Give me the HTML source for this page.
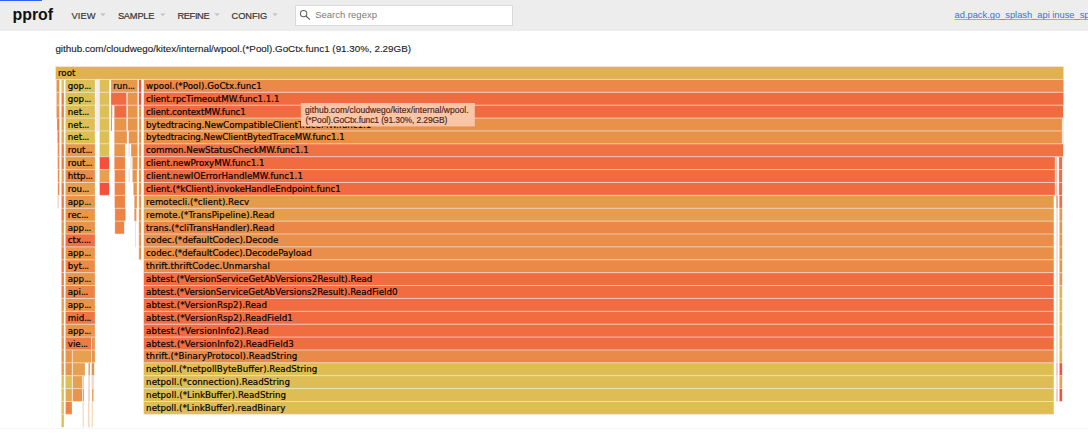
<!DOCTYPE html>
<html>
<head>
<meta charset="utf-8">
<title>pprof flame graph</title>
<style>
html,body{margin:0;padding:0;background:#fff;}
body{width:1088px;height:439px;overflow:hidden;position:relative;font-family:"Liberation Sans",Arial,sans-serif;}
.header{position:absolute;left:0;top:0;width:1088px;height:30.9px;background:#ededed;}
.bluebar{position:absolute;left:0;top:0;width:42px;height:1px;background:#2f62f0;}
.search{position:absolute;left:295.2px;top:4.6px;width:218.1px;height:21.6px;background:#fff;border:0.8px solid #dadada;box-sizing:border-box;}
svg.ov{position:absolute;left:0;top:0;}
.hd text{font-family:"Liberation Sans",Arial,sans-serif;}
.lbl text{font-family:"DejaVu Sans",Verdana,sans-serif;font-size:8.68px;fill:#000;stroke:#000;stroke-width:0.18px;}
.bottomline{position:absolute;left:0;top:428.3px;width:1088px;height:1px;background:#f6f6f8;}
.tip text{font-family:"Liberation Sans",Arial,sans-serif;font-size:8.5px;fill:#4e2418;stroke:#4e2418;stroke-width:0.15px;}
</style>
</head>
<body>
<div class="header"></div>
<div class="bluebar"></div>
<div class="search"></div>
<svg class="ov hd" width="1088" height="60" viewBox="0 0 1088 60">
<text x="12.5" y="20.0" font-size="15.9" font-weight="bold" fill="#111">pprof</text>
<g font-size="9.3" fill="#333" stroke="#333" stroke-width="0.18">
<text x="71.6" y="18.5" letter-spacing="0.03">VIEW</text>
<text x="117.9" y="18.5" letter-spacing="-0.22">SAMPLE</text>
<text x="177.5" y="18.5" letter-spacing="-0.4">REFINE</text>
<text x="231.6" y="18.5" letter-spacing="-0.11">CONFIG</text>
</g>
<g fill="#c4c4c4">
<polygon points="100.1,13.2 105.8,13.2 102.95,16.2"/>
<polygon points="160.0,13.4 165.4,13.4 162.7,16.3"/>
<polygon points="214.4,13.2 219.8,13.2 217.1,16.2"/>
<polygon points="272.3,13.2 277.7,13.2 275.0,16.2"/>
</g>
<circle cx="303.6" cy="13.6" r="3.2" fill="none" stroke="#5e5e5e" stroke-width="1.05"/>
<line x1="305.9" y1="16.0" x2="309.9" y2="19.6" stroke="#5e5e5e" stroke-width="1.15"/>
<text x="315.2" y="18.1" font-size="9.5" fill="#7a7a7a">Search regexp</text>
<text x="954.6" y="18.1" font-size="9.3" fill="#3a6fdb">ad.pack.go_splash_api inuse_space</text>
<rect x="954.6" y="19.2" width="140" height="0.75" fill="#6f95e6"/>
<text x="55.4" y="51.7" font-size="9.83" fill="#1a1a1a" stroke="#1a1a1a" stroke-width="0.12">github.com/cloudwego/kitex/internal/wpool.(*Pool).GoCtx.func1 (91.30%, 2.29GB)</text>
</svg>
<svg class="ov" width="1088" height="439" viewBox="0 0 1088 439"><g><rect x="55.60" y="66.52" width="1008.00" height="12.88" fill="#e1b151"/><rect x="56.40" y="79.40" width="3.00" height="12.88" fill="#e8944a"/><rect x="56.40" y="92.29" width="3.00" height="12.88" fill="#e9a05a"/><rect x="56.40" y="105.17" width="3.00" height="12.88" fill="#e8944a"/><rect x="57.00" y="118.05" width="2.40" height="12.88" fill="#ef7a48"/><rect x="57.40" y="130.94" width="2.00" height="12.88" fill="#ef7a48"/><rect x="57.60" y="143.82" width="1.80" height="12.88" fill="#eb8c50"/><rect x="57.60" y="156.70" width="1.80" height="12.88" fill="#eb8c50"/><rect x="57.80" y="169.58" width="1.60" height="12.88" fill="#eb8c50"/><rect x="57.80" y="182.47" width="1.60" height="12.88" fill="#eb8c50"/><rect x="57.60" y="195.35" width="1.00" height="12.88" fill="#f4b4a8"/><rect x="61.40" y="79.40" width="2.60" height="12.88" fill="#ddbf55"/><rect x="61.40" y="92.29" width="2.60" height="12.88" fill="#ef7a48"/><rect x="61.40" y="105.17" width="2.60" height="12.88" fill="#ef7a48"/><rect x="61.40" y="118.05" width="2.60" height="12.88" fill="#e8a050"/><rect x="61.40" y="130.94" width="2.60" height="12.88" fill="#e8a050"/><rect x="61.40" y="143.82" width="2.60" height="12.88" fill="#ef7a48"/><rect x="61.40" y="156.70" width="2.60" height="12.88" fill="#ef7a48"/><rect x="61.40" y="169.58" width="2.60" height="12.88" fill="#e5a852"/><rect x="61.40" y="182.47" width="2.60" height="12.88" fill="#ef7a48"/><rect x="61.40" y="195.35" width="2.60" height="12.88" fill="#ef7a48"/><rect x="61.40" y="208.23" width="2.60" height="12.88" fill="#ef7a48"/><rect x="61.40" y="221.12" width="2.60" height="12.88" fill="#e8944a"/><rect x="61.40" y="234.00" width="2.60" height="12.88" fill="#e8944a"/><rect x="61.40" y="246.88" width="2.60" height="12.88" fill="#ef7a48"/><rect x="61.40" y="259.76" width="2.60" height="12.88" fill="#ef7a48"/><rect x="61.40" y="272.65" width="2.60" height="12.88" fill="#ef7a48"/><rect x="61.40" y="285.53" width="2.60" height="12.88" fill="#ef7a48"/><rect x="61.40" y="298.41" width="2.60" height="12.88" fill="#e89a4c"/><rect x="61.40" y="311.30" width="2.60" height="12.88" fill="#e89a4c"/><rect x="61.40" y="324.18" width="2.60" height="12.88" fill="#e8944a"/><rect x="61.40" y="337.06" width="2.60" height="12.88" fill="#e8944a"/><rect x="61.40" y="349.95" width="2.60" height="12.88" fill="#e8944a"/><rect x="61.40" y="362.83" width="2.60" height="12.88" fill="#e8944a"/><rect x="61.40" y="375.71" width="2.60" height="12.88" fill="#ddbf55"/><rect x="61.40" y="388.59" width="2.60" height="12.88" fill="#ddbf55"/><rect x="61.40" y="401.48" width="2.60" height="12.88" fill="#ddbf55"/><rect x="61.40" y="414.36" width="2.60" height="12.88" fill="#ddbf55"/><rect x="65.40" y="79.40" width="29.60" height="12.88" fill="#ddbf55"/><rect x="65.40" y="92.29" width="29.60" height="12.88" fill="#ddbf55"/><rect x="65.40" y="105.17" width="29.60" height="12.88" fill="#ddbf55"/><rect x="65.40" y="118.05" width="29.60" height="12.88" fill="#ddbf55"/><rect x="65.40" y="130.94" width="29.60" height="12.88" fill="#ddbf55"/><rect x="65.40" y="143.82" width="29.60" height="12.88" fill="#e7994b"/><rect x="65.40" y="156.70" width="29.60" height="12.88" fill="#e7994b"/><rect x="65.40" y="169.58" width="29.60" height="12.88" fill="#ea8c48"/><rect x="65.40" y="182.47" width="29.60" height="12.88" fill="#e59f4d"/><rect x="65.40" y="195.35" width="29.60" height="12.88" fill="#e8944a"/><rect x="65.40" y="208.23" width="29.60" height="12.88" fill="#e7964b"/><rect x="65.40" y="221.12" width="29.60" height="12.88" fill="#e8944a"/><rect x="65.40" y="234.00" width="29.60" height="12.88" fill="#f17041"/><rect x="65.40" y="246.88" width="29.60" height="12.88" fill="#e8944a"/><rect x="65.40" y="259.76" width="29.60" height="12.88" fill="#ed8a47"/><rect x="65.40" y="272.65" width="29.60" height="12.88" fill="#e8944a"/><rect x="65.40" y="285.53" width="29.60" height="12.88" fill="#eb8547"/><rect x="65.40" y="298.41" width="29.60" height="12.88" fill="#e8944a"/><rect x="65.40" y="311.30" width="29.60" height="12.88" fill="#ef7643"/><rect x="65.40" y="324.18" width="29.60" height="12.88" fill="#e8944a"/><rect x="65.40" y="337.06" width="25.80" height="12.88" fill="#ed7b45"/><rect x="91.60" y="337.06" width="3.40" height="12.88" fill="#e8944a"/><rect x="65.40" y="349.95" width="6.60" height="12.88" fill="#e8944a"/><rect x="72.40" y="349.95" width="18.80" height="12.88" fill="#e8a050"/><rect x="91.60" y="349.95" width="3.40" height="12.88" fill="#e8944a"/><rect x="65.40" y="362.83" width="6.60" height="12.88" fill="#e8944a"/><rect x="72.60" y="362.83" width="12.40" height="12.88" fill="#e8a050"/><rect x="88.40" y="362.83" width="1.60" height="12.88" fill="#e8944a"/><rect x="91.60" y="362.83" width="2.60" height="12.88" fill="#e8944a"/><rect x="65.40" y="375.71" width="6.60" height="12.88" fill="#ddbf55"/><rect x="72.60" y="375.71" width="9.80" height="12.88" fill="#e8a050"/><rect x="82.80" y="375.71" width="0.80" height="12.88" fill="#e8944a"/><rect x="88.20" y="375.71" width="1.80" height="12.88" fill="#f5d3c6"/><rect x="91.60" y="375.71" width="2.40" height="12.88" fill="#f3d6c8"/><rect x="65.60" y="388.59" width="6.40" height="12.88" fill="#e5a852"/><rect x="72.60" y="388.59" width="9.60" height="12.88" fill="#e8944a"/><rect x="82.80" y="388.59" width="1.20" height="12.88" fill="#e8944a"/><rect x="88.00" y="388.59" width="2.00" height="12.88" fill="#f5d3c6"/><rect x="92.00" y="388.59" width="1.60" height="12.88" fill="#e8944a"/><rect x="65.60" y="401.48" width="6.40" height="12.88" fill="#ec8446"/><rect x="82.60" y="401.48" width="1.30" height="12.88" fill="#efe0b0"/><rect x="88.00" y="401.48" width="1.60" height="12.88" fill="#f5d3c6"/><rect x="91.60" y="401.48" width="1.40" height="12.88" fill="#efe0b0"/><rect x="82.60" y="414.36" width="1.30" height="12.88" fill="#efe0b0"/><rect x="88.00" y="414.36" width="1.60" height="12.88" fill="#f5d3c6"/><rect x="91.60" y="414.36" width="1.40" height="12.88" fill="#efe0b0"/><rect x="96.20" y="79.40" width="2.60" height="12.88" fill="#f4e8e8"/><rect x="96.20" y="92.29" width="2.60" height="12.88" fill="#f4e8e8"/><rect x="96.20" y="105.17" width="2.60" height="12.88" fill="#f4e8e8"/><rect x="96.20" y="118.05" width="2.60" height="12.88" fill="#f4e8e8"/><rect x="99.60" y="79.40" width="9.70" height="12.88" fill="#ddbf55"/><rect x="99.60" y="92.29" width="9.70" height="12.88" fill="#ddbf55"/><rect x="99.60" y="105.17" width="9.70" height="12.88" fill="#ddbf55"/><rect x="99.60" y="118.05" width="9.70" height="12.88" fill="#ddbf55"/><rect x="99.60" y="130.94" width="9.70" height="12.88" fill="#ddbf55"/><rect x="99.60" y="143.82" width="9.70" height="12.88" fill="#ddbf55"/><rect x="99.60" y="156.70" width="9.70" height="12.88" fill="#f5503c"/><rect x="99.60" y="169.58" width="9.70" height="12.88" fill="#e8a050"/><rect x="99.60" y="182.47" width="9.70" height="12.88" fill="#f5503c"/><rect x="110.90" y="79.40" width="26.80" height="12.88" fill="#e7984b"/><rect x="110.90" y="92.29" width="15.70" height="12.88" fill="#f16b41"/><rect x="127.40" y="92.29" width="10.30" height="12.88" fill="#e8944a"/><rect x="110.90" y="105.17" width="1.40" height="12.88" fill="#e8944a"/><rect x="114.20" y="105.17" width="12.40" height="12.88" fill="#f16b41"/><rect x="127.80" y="105.17" width="9.90" height="12.88" fill="#e8944a"/><rect x="110.90" y="118.05" width="1.00" height="12.88" fill="#f5503c"/><rect x="114.20" y="118.05" width="12.40" height="12.88" fill="#e8944a"/><rect x="127.80" y="118.05" width="9.90" height="12.88" fill="#e8944a"/><rect x="114.20" y="130.94" width="12.80" height="12.88" fill="#e8944a"/><rect x="128.70" y="130.94" width="9.00" height="12.88" fill="#e8944a"/><rect x="114.20" y="143.82" width="10.90" height="12.88" fill="#e8944a"/><rect x="128.70" y="143.82" width="1.00" height="12.88" fill="#f3d6c8"/><rect x="131.00" y="143.82" width="6.70" height="12.88" fill="#e8944a"/><rect x="114.20" y="156.70" width="10.90" height="12.88" fill="#ed8446"/><rect x="130.60" y="156.70" width="0.90" height="12.88" fill="#f3d6c8"/><rect x="132.40" y="156.70" width="5.30" height="12.88" fill="#e8944a"/><rect x="114.60" y="169.58" width="10.50" height="12.88" fill="#ed8446"/><rect x="128.70" y="169.58" width="1.00" height="12.88" fill="#f3d6c8"/><rect x="132.40" y="169.58" width="4.60" height="12.88" fill="#e8944a"/><rect x="114.60" y="182.47" width="10.50" height="12.88" fill="#ed8446"/><rect x="133.30" y="182.47" width="3.70" height="12.88" fill="#e8944a"/><rect x="114.60" y="195.35" width="10.50" height="12.88" fill="#ed8446"/><rect x="134.20" y="195.35" width="2.80" height="12.88" fill="#e8944a"/><rect x="114.90" y="208.23" width="10.70" height="12.88" fill="#ed8446"/><rect x="134.20" y="208.23" width="2.30" height="12.88" fill="#e8944a"/><rect x="114.90" y="221.12" width="9.30" height="12.88" fill="#ed8446"/><rect x="135.10" y="221.12" width="0.90" height="12.88" fill="#f3d6c8"/><rect x="135.10" y="234.00" width="0.90" height="12.88" fill="#f3d6c8"/><rect x="138.80" y="79.40" width="2.40" height="12.88" fill="#f5503c"/><rect x="138.80" y="92.29" width="2.40" height="12.88" fill="#f5503c"/><rect x="138.90" y="105.17" width="2.30" height="12.88" fill="#e8944a"/><rect x="138.90" y="118.05" width="2.30" height="12.88" fill="#e8944a"/><rect x="138.90" y="130.94" width="2.30" height="12.88" fill="#e8944a"/><rect x="138.90" y="143.82" width="2.30" height="12.88" fill="#e8944a"/><rect x="138.90" y="156.70" width="2.30" height="12.88" fill="#e8944a"/><rect x="138.90" y="169.58" width="2.30" height="12.88" fill="#e8944a"/><rect x="138.90" y="182.47" width="2.30" height="12.88" fill="#e8944a"/><rect x="138.90" y="195.35" width="2.30" height="12.88" fill="#e8944a"/><rect x="138.90" y="208.23" width="2.30" height="12.88" fill="#e8944a"/><rect x="138.90" y="221.12" width="2.30" height="12.88" fill="#e8944a"/><rect x="138.90" y="234.00" width="2.30" height="12.88" fill="#e8944a"/><rect x="138.90" y="246.88" width="2.30" height="12.88" fill="#e8944a"/><rect x="143.70" y="79.40" width="919.90" height="12.88" fill="#ea8948"/><rect x="143.70" y="92.29" width="919.90" height="12.88" fill="#f16b41"/><rect x="143.70" y="105.17" width="919.50" height="12.88" fill="#f16b41"/><rect x="143.70" y="118.05" width="918.40" height="12.88" fill="#e99149"/><rect x="143.70" y="130.94" width="918.40" height="12.88" fill="#e99149"/><rect x="143.70" y="143.82" width="919.50" height="12.88" fill="#f07142"/><rect x="143.70" y="156.70" width="911.30" height="12.88" fill="#f16b41"/><rect x="143.70" y="169.58" width="911.30" height="12.88" fill="#f16b41"/><rect x="143.70" y="182.47" width="911.30" height="12.88" fill="#f16b41"/><rect x="143.70" y="195.35" width="910.20" height="12.88" fill="#e69a4c"/><rect x="143.70" y="208.23" width="910.20" height="12.88" fill="#e69d4c"/><rect x="143.70" y="221.12" width="910.20" height="12.88" fill="#eb8747"/><rect x="143.70" y="234.00" width="910.20" height="12.88" fill="#e98f49"/><rect x="143.70" y="246.88" width="910.20" height="12.88" fill="#e98f49"/><rect x="143.70" y="259.76" width="910.20" height="12.88" fill="#ea8948"/><rect x="143.70" y="272.65" width="910.20" height="12.88" fill="#f16d41"/><rect x="143.70" y="285.53" width="910.20" height="12.88" fill="#f16d41"/><rect x="143.70" y="298.41" width="910.20" height="12.88" fill="#f16d41"/><rect x="143.70" y="311.30" width="910.20" height="12.88" fill="#f16d41"/><rect x="143.70" y="324.18" width="910.20" height="12.88" fill="#f16d41"/><rect x="143.70" y="337.06" width="910.20" height="12.88" fill="#f16d41"/><rect x="143.70" y="349.95" width="910.20" height="12.88" fill="#ea8948"/><rect x="143.70" y="362.83" width="910.20" height="12.88" fill="#debd54"/><rect x="143.70" y="375.71" width="910.20" height="12.88" fill="#debd54"/><rect x="143.70" y="388.59" width="910.20" height="12.88" fill="#debd54"/><rect x="143.70" y="401.48" width="910.20" height="12.88" fill="#debd54"/><rect x="1062.30" y="118.05" width="1.30" height="12.88" fill="#f3d6c8"/><rect x="1062.30" y="130.94" width="1.30" height="12.88" fill="#f3d6c8"/><rect x="1055.50" y="156.70" width="1.50" height="12.88" fill="#f4b4a8"/><rect x="1058.90" y="156.70" width="3.30" height="12.88" fill="#f16b41"/><rect x="1055.50" y="169.58" width="1.50" height="12.88" fill="#f4b4a8"/><rect x="1058.90" y="169.58" width="3.30" height="12.88" fill="#f16b41"/><rect x="1055.50" y="182.47" width="1.50" height="12.88" fill="#f4b4a8"/><rect x="1058.90" y="182.47" width="3.30" height="12.88" fill="#f16b41"/><rect x="1056.30" y="195.35" width="1.50" height="12.88" fill="#f16b41"/><rect x="1059.20" y="195.35" width="3.00" height="12.88" fill="#f16b41"/><rect x="1056.20" y="208.23" width="1.60" height="12.88" fill="#f3d6c8"/><rect x="1059.40" y="208.23" width="2.80" height="12.88" fill="#e8944a"/><rect x="1056.20" y="221.12" width="1.60" height="12.88" fill="#f3d6c8"/><rect x="1059.40" y="221.12" width="2.80" height="12.88" fill="#e8944a"/><rect x="1056.20" y="234.00" width="1.60" height="12.88" fill="#f3d6c8"/><rect x="1059.40" y="234.00" width="2.80" height="12.88" fill="#e8944a"/><rect x="1056.20" y="246.88" width="1.60" height="12.88" fill="#f3d6c8"/><rect x="1059.40" y="246.88" width="2.80" height="12.88" fill="#e8944a"/><rect x="1056.20" y="259.76" width="1.60" height="12.88" fill="#f3d6c8"/><rect x="1059.40" y="259.76" width="2.80" height="12.88" fill="#e8944a"/><rect x="1056.20" y="272.65" width="1.60" height="12.88" fill="#f3d6c8"/><rect x="1059.40" y="272.65" width="2.80" height="12.88" fill="#e8944a"/><rect x="1056.20" y="285.53" width="1.60" height="12.88" fill="#efe0b0"/><rect x="1059.40" y="285.53" width="2.80" height="12.88" fill="#dcb84f"/><rect x="1056.20" y="298.41" width="1.60" height="12.88" fill="#efe0b0"/><rect x="1059.40" y="298.41" width="2.80" height="12.88" fill="#dcb84f"/><rect x="1056.20" y="311.30" width="1.60" height="12.88" fill="#efe0b0"/><rect x="1059.40" y="311.30" width="2.80" height="12.88" fill="#dcb84f"/><rect x="1056.20" y="324.18" width="1.60" height="12.88" fill="#efe0b0"/><rect x="1059.40" y="324.18" width="2.80" height="12.88" fill="#dcb84f"/><rect x="1056.20" y="337.06" width="1.60" height="12.88" fill="#efe0b0"/><rect x="1059.40" y="337.06" width="2.80" height="12.88" fill="#dcb84f"/><rect x="1056.20" y="349.95" width="1.60" height="12.88" fill="#efe0b0"/><rect x="1059.40" y="349.95" width="2.80" height="12.88" fill="#dcb84f"/><rect x="1056.20" y="362.83" width="1.60" height="12.88" fill="#f4b4a8"/><rect x="1059.40" y="362.83" width="2.80" height="12.88" fill="#f5503c"/><rect x="1056.20" y="375.71" width="1.60" height="12.88" fill="#f3d6c8"/><rect x="1059.40" y="375.71" width="2.80" height="12.88" fill="#e8a050"/><rect x="1056.20" y="388.59" width="1.60" height="12.88" fill="#f4b4a8"/><rect x="1059.40" y="388.59" width="2.80" height="12.88" fill="#f5503c"/><g fill="#eeeeee" fill-opacity="0.62"><rect x="55.60" y="66.02" width="1008.00" height="1.00"/><rect x="55.60" y="78.90" width="1008.00" height="1.00"/><rect x="56.40" y="91.79" width="3.00" height="1.00"/><rect x="61.40" y="91.79" width="2.60" height="1.00"/><rect x="65.40" y="91.79" width="29.60" height="1.00"/><rect x="96.20" y="91.79" width="2.60" height="1.00"/><rect x="99.60" y="91.79" width="9.70" height="1.00"/><rect x="110.90" y="91.79" width="26.80" height="1.00"/><rect x="138.80" y="91.79" width="2.40" height="1.00"/><rect x="143.70" y="91.79" width="919.90" height="1.00"/><rect x="56.40" y="104.67" width="3.00" height="1.00"/><rect x="61.40" y="104.67" width="2.60" height="1.00"/><rect x="65.40" y="104.67" width="29.60" height="1.00"/><rect x="96.20" y="104.67" width="2.60" height="1.00"/><rect x="99.60" y="104.67" width="9.70" height="1.00"/><rect x="110.90" y="104.67" width="15.70" height="1.00"/><rect x="127.40" y="104.67" width="10.30" height="1.00"/><rect x="138.80" y="104.67" width="2.40" height="1.00"/><rect x="143.70" y="104.67" width="919.90" height="1.00"/><rect x="56.40" y="117.55" width="3.00" height="1.00"/><rect x="61.40" y="117.55" width="2.60" height="1.00"/><rect x="65.40" y="117.55" width="29.60" height="1.00"/><rect x="96.20" y="117.55" width="2.60" height="1.00"/><rect x="99.60" y="117.55" width="9.70" height="1.00"/><rect x="110.90" y="117.55" width="1.40" height="1.00"/><rect x="114.20" y="117.55" width="12.40" height="1.00"/><rect x="127.80" y="117.55" width="9.90" height="1.00"/><rect x="138.90" y="117.55" width="2.30" height="1.00"/><rect x="143.70" y="117.55" width="919.90" height="1.00"/><rect x="57.00" y="130.44" width="2.40" height="1.00"/><rect x="61.40" y="130.44" width="2.60" height="1.00"/><rect x="65.40" y="130.44" width="29.60" height="1.00"/><rect x="96.20" y="130.44" width="2.60" height="1.00"/><rect x="99.60" y="130.44" width="9.70" height="1.00"/><rect x="110.90" y="130.44" width="1.00" height="1.00"/><rect x="114.20" y="130.44" width="12.80" height="1.00"/><rect x="127.80" y="130.44" width="9.90" height="1.00"/><rect x="138.90" y="130.44" width="2.30" height="1.00"/><rect x="143.70" y="130.44" width="918.40" height="1.00"/><rect x="1062.30" y="130.44" width="1.30" height="1.00"/><rect x="57.40" y="143.32" width="2.00" height="1.00"/><rect x="61.40" y="143.32" width="2.60" height="1.00"/><rect x="65.40" y="143.32" width="29.60" height="1.00"/><rect x="99.60" y="143.32" width="9.70" height="1.00"/><rect x="114.20" y="143.32" width="12.80" height="1.00"/><rect x="128.70" y="143.32" width="9.00" height="1.00"/><rect x="138.90" y="143.32" width="2.30" height="1.00"/><rect x="143.70" y="143.32" width="919.90" height="1.00"/><rect x="57.60" y="156.20" width="1.80" height="1.00"/><rect x="61.40" y="156.20" width="2.60" height="1.00"/><rect x="65.40" y="156.20" width="29.60" height="1.00"/><rect x="99.60" y="156.20" width="9.70" height="1.00"/><rect x="114.20" y="156.20" width="10.90" height="1.00"/><rect x="128.70" y="156.20" width="1.00" height="1.00"/><rect x="130.60" y="156.20" width="7.10" height="1.00"/><rect x="138.90" y="156.20" width="2.30" height="1.00"/><rect x="143.70" y="156.20" width="919.50" height="1.00"/><rect x="57.60" y="169.08" width="1.80" height="1.00"/><rect x="61.40" y="169.08" width="2.60" height="1.00"/><rect x="65.40" y="169.08" width="29.60" height="1.00"/><rect x="99.60" y="169.08" width="9.70" height="1.00"/><rect x="114.20" y="169.08" width="10.90" height="1.00"/><rect x="128.70" y="169.08" width="1.00" height="1.00"/><rect x="130.60" y="169.08" width="0.90" height="1.00"/><rect x="132.40" y="169.08" width="5.30" height="1.00"/><rect x="138.90" y="169.08" width="2.30" height="1.00"/><rect x="143.70" y="169.08" width="911.30" height="1.00"/><rect x="1055.50" y="169.08" width="1.50" height="1.00"/><rect x="1058.90" y="169.08" width="3.30" height="1.00"/><rect x="57.80" y="181.97" width="1.60" height="1.00"/><rect x="61.40" y="181.97" width="2.60" height="1.00"/><rect x="65.40" y="181.97" width="29.60" height="1.00"/><rect x="99.60" y="181.97" width="9.70" height="1.00"/><rect x="114.60" y="181.97" width="10.50" height="1.00"/><rect x="128.70" y="181.97" width="1.00" height="1.00"/><rect x="132.40" y="181.97" width="4.60" height="1.00"/><rect x="138.90" y="181.97" width="2.30" height="1.00"/><rect x="143.70" y="181.97" width="911.30" height="1.00"/><rect x="1055.50" y="181.97" width="1.50" height="1.00"/><rect x="1058.90" y="181.97" width="3.30" height="1.00"/><rect x="57.60" y="194.85" width="1.80" height="1.00"/><rect x="61.40" y="194.85" width="2.60" height="1.00"/><rect x="65.40" y="194.85" width="29.60" height="1.00"/><rect x="99.60" y="194.85" width="9.70" height="1.00"/><rect x="114.60" y="194.85" width="10.50" height="1.00"/><rect x="133.30" y="194.85" width="3.70" height="1.00"/><rect x="138.90" y="194.85" width="2.30" height="1.00"/><rect x="143.70" y="194.85" width="911.30" height="1.00"/><rect x="1055.50" y="194.85" width="2.30" height="1.00"/><rect x="1058.90" y="194.85" width="3.30" height="1.00"/><rect x="57.60" y="207.73" width="1.00" height="1.00"/><rect x="61.40" y="207.73" width="2.60" height="1.00"/><rect x="65.40" y="207.73" width="29.60" height="1.00"/><rect x="114.60" y="207.73" width="11.00" height="1.00"/><rect x="134.20" y="207.73" width="2.80" height="1.00"/><rect x="138.90" y="207.73" width="2.30" height="1.00"/><rect x="143.70" y="207.73" width="910.20" height="1.00"/><rect x="1056.20" y="207.73" width="1.60" height="1.00"/><rect x="1059.20" y="207.73" width="3.00" height="1.00"/><rect x="61.40" y="220.62" width="2.60" height="1.00"/><rect x="65.40" y="220.62" width="29.60" height="1.00"/><rect x="114.90" y="220.62" width="10.70" height="1.00"/><rect x="134.20" y="220.62" width="2.30" height="1.00"/><rect x="138.90" y="220.62" width="2.30" height="1.00"/><rect x="143.70" y="220.62" width="910.20" height="1.00"/><rect x="1056.20" y="220.62" width="1.60" height="1.00"/><rect x="1059.40" y="220.62" width="2.80" height="1.00"/><rect x="61.40" y="233.50" width="2.60" height="1.00"/><rect x="65.40" y="233.50" width="29.60" height="1.00"/><rect x="114.90" y="233.50" width="9.30" height="1.00"/><rect x="135.10" y="233.50" width="0.90" height="1.00"/><rect x="138.90" y="233.50" width="2.30" height="1.00"/><rect x="143.70" y="233.50" width="910.20" height="1.00"/><rect x="1056.20" y="233.50" width="1.60" height="1.00"/><rect x="1059.40" y="233.50" width="2.80" height="1.00"/><rect x="61.40" y="246.38" width="2.60" height="1.00"/><rect x="65.40" y="246.38" width="29.60" height="1.00"/><rect x="135.10" y="246.38" width="0.90" height="1.00"/><rect x="138.90" y="246.38" width="2.30" height="1.00"/><rect x="143.70" y="246.38" width="910.20" height="1.00"/><rect x="1056.20" y="246.38" width="1.60" height="1.00"/><rect x="1059.40" y="246.38" width="2.80" height="1.00"/><rect x="61.40" y="259.26" width="2.60" height="1.00"/><rect x="65.40" y="259.26" width="29.60" height="1.00"/><rect x="138.90" y="259.26" width="2.30" height="1.00"/><rect x="143.70" y="259.26" width="910.20" height="1.00"/><rect x="1056.20" y="259.26" width="1.60" height="1.00"/><rect x="1059.40" y="259.26" width="2.80" height="1.00"/><rect x="61.40" y="272.15" width="2.60" height="1.00"/><rect x="65.40" y="272.15" width="29.60" height="1.00"/><rect x="143.70" y="272.15" width="910.20" height="1.00"/><rect x="1056.20" y="272.15" width="1.60" height="1.00"/><rect x="1059.40" y="272.15" width="2.80" height="1.00"/><rect x="61.40" y="285.03" width="2.60" height="1.00"/><rect x="65.40" y="285.03" width="29.60" height="1.00"/><rect x="143.70" y="285.03" width="910.20" height="1.00"/><rect x="1056.20" y="285.03" width="1.60" height="1.00"/><rect x="1059.40" y="285.03" width="2.80" height="1.00"/><rect x="61.40" y="297.91" width="2.60" height="1.00"/><rect x="65.40" y="297.91" width="29.60" height="1.00"/><rect x="143.70" y="297.91" width="910.20" height="1.00"/><rect x="1056.20" y="297.91" width="1.60" height="1.00"/><rect x="1059.40" y="297.91" width="2.80" height="1.00"/><rect x="61.40" y="310.80" width="2.60" height="1.00"/><rect x="65.40" y="310.80" width="29.60" height="1.00"/><rect x="143.70" y="310.80" width="910.20" height="1.00"/><rect x="1056.20" y="310.80" width="1.60" height="1.00"/><rect x="1059.40" y="310.80" width="2.80" height="1.00"/><rect x="61.40" y="323.68" width="2.60" height="1.00"/><rect x="65.40" y="323.68" width="29.60" height="1.00"/><rect x="143.70" y="323.68" width="910.20" height="1.00"/><rect x="1056.20" y="323.68" width="1.60" height="1.00"/><rect x="1059.40" y="323.68" width="2.80" height="1.00"/><rect x="61.40" y="336.56" width="2.60" height="1.00"/><rect x="65.40" y="336.56" width="29.60" height="1.00"/><rect x="143.70" y="336.56" width="910.20" height="1.00"/><rect x="1056.20" y="336.56" width="1.60" height="1.00"/><rect x="1059.40" y="336.56" width="2.80" height="1.00"/><rect x="61.40" y="349.45" width="2.60" height="1.00"/><rect x="65.40" y="349.45" width="25.80" height="1.00"/><rect x="91.60" y="349.45" width="3.40" height="1.00"/><rect x="143.70" y="349.45" width="910.20" height="1.00"/><rect x="1056.20" y="349.45" width="1.60" height="1.00"/><rect x="1059.40" y="349.45" width="2.80" height="1.00"/><rect x="61.40" y="362.33" width="2.60" height="1.00"/><rect x="65.40" y="362.33" width="6.60" height="1.00"/><rect x="72.40" y="362.33" width="18.80" height="1.00"/><rect x="91.60" y="362.33" width="3.40" height="1.00"/><rect x="143.70" y="362.33" width="910.20" height="1.00"/><rect x="1056.20" y="362.33" width="1.60" height="1.00"/><rect x="1059.40" y="362.33" width="2.80" height="1.00"/><rect x="61.40" y="375.21" width="2.60" height="1.00"/><rect x="65.40" y="375.21" width="6.60" height="1.00"/><rect x="72.60" y="375.21" width="12.40" height="1.00"/><rect x="88.20" y="375.21" width="1.80" height="1.00"/><rect x="91.60" y="375.21" width="2.60" height="1.00"/><rect x="143.70" y="375.21" width="910.20" height="1.00"/><rect x="1056.20" y="375.21" width="1.60" height="1.00"/><rect x="1059.40" y="375.21" width="2.80" height="1.00"/><rect x="61.40" y="388.09" width="2.60" height="1.00"/><rect x="65.40" y="388.09" width="6.60" height="1.00"/><rect x="72.60" y="388.09" width="9.80" height="1.00"/><rect x="82.80" y="388.09" width="1.20" height="1.00"/><rect x="88.00" y="388.09" width="2.00" height="1.00"/><rect x="91.60" y="388.09" width="2.40" height="1.00"/><rect x="143.70" y="388.09" width="910.20" height="1.00"/><rect x="1056.20" y="388.09" width="1.60" height="1.00"/><rect x="1059.40" y="388.09" width="2.80" height="1.00"/><rect x="61.40" y="400.98" width="2.60" height="1.00"/><rect x="65.60" y="400.98" width="6.40" height="1.00"/><rect x="72.60" y="400.98" width="9.60" height="1.00"/><rect x="82.60" y="400.98" width="1.40" height="1.00"/><rect x="88.00" y="400.98" width="2.00" height="1.00"/><rect x="91.60" y="400.98" width="2.00" height="1.00"/><rect x="143.70" y="400.98" width="910.20" height="1.00"/><rect x="1056.20" y="400.98" width="1.60" height="1.00"/><rect x="1059.40" y="400.98" width="2.80" height="1.00"/><rect x="61.40" y="413.86" width="2.60" height="1.00"/><rect x="65.60" y="413.86" width="6.40" height="1.00"/><rect x="82.60" y="413.86" width="1.30" height="1.00"/><rect x="88.00" y="413.86" width="1.60" height="1.00"/><rect x="91.60" y="413.86" width="1.40" height="1.00"/><rect x="143.70" y="413.86" width="910.20" height="1.00"/><rect x="61.40" y="426.74" width="2.60" height="1.00"/><rect x="82.60" y="426.74" width="1.30" height="1.00"/><rect x="88.00" y="426.74" width="1.60" height="1.00"/><rect x="91.60" y="426.74" width="1.40" height="1.00"/></g><g fill="#eeeeee" fill-opacity="0.70"><rect x="55.38" y="67.02" width="0.45" height="11.88"/><rect x="1063.38" y="67.02" width="0.45" height="11.88"/><rect x="56.17" y="79.90" width="0.45" height="11.88"/><rect x="59.17" y="79.90" width="0.45" height="11.88"/><rect x="56.17" y="92.79" width="0.45" height="11.88"/><rect x="59.17" y="92.79" width="0.45" height="11.88"/><rect x="56.17" y="105.67" width="0.45" height="11.88"/><rect x="59.17" y="105.67" width="0.45" height="11.88"/><rect x="56.77" y="118.55" width="0.45" height="11.88"/><rect x="59.17" y="118.55" width="0.45" height="11.88"/><rect x="57.17" y="131.44" width="0.45" height="11.88"/><rect x="59.17" y="131.44" width="0.45" height="11.88"/><rect x="57.38" y="144.32" width="0.45" height="11.88"/><rect x="59.17" y="144.32" width="0.45" height="11.88"/><rect x="57.38" y="157.20" width="0.45" height="11.88"/><rect x="59.17" y="157.20" width="0.45" height="11.88"/><rect x="57.57" y="170.08" width="0.45" height="11.88"/><rect x="59.17" y="170.08" width="0.45" height="11.88"/><rect x="57.57" y="182.97" width="0.45" height="11.88"/><rect x="59.17" y="182.97" width="0.45" height="11.88"/><rect x="57.38" y="195.85" width="0.45" height="11.88"/><rect x="58.38" y="195.85" width="0.45" height="11.88"/><rect x="61.17" y="79.90" width="0.45" height="11.88"/><rect x="63.77" y="79.90" width="0.45" height="11.88"/><rect x="61.17" y="92.79" width="0.45" height="11.88"/><rect x="63.77" y="92.79" width="0.45" height="11.88"/><rect x="61.17" y="105.67" width="0.45" height="11.88"/><rect x="63.77" y="105.67" width="0.45" height="11.88"/><rect x="61.17" y="118.55" width="0.45" height="11.88"/><rect x="63.77" y="118.55" width="0.45" height="11.88"/><rect x="61.17" y="131.44" width="0.45" height="11.88"/><rect x="63.77" y="131.44" width="0.45" height="11.88"/><rect x="61.17" y="144.32" width="0.45" height="11.88"/><rect x="63.77" y="144.32" width="0.45" height="11.88"/><rect x="61.17" y="157.20" width="0.45" height="11.88"/><rect x="63.77" y="157.20" width="0.45" height="11.88"/><rect x="61.17" y="170.08" width="0.45" height="11.88"/><rect x="63.77" y="170.08" width="0.45" height="11.88"/><rect x="61.17" y="182.97" width="0.45" height="11.88"/><rect x="63.77" y="182.97" width="0.45" height="11.88"/><rect x="61.17" y="195.85" width="0.45" height="11.88"/><rect x="63.77" y="195.85" width="0.45" height="11.88"/><rect x="61.17" y="208.73" width="0.45" height="11.88"/><rect x="63.77" y="208.73" width="0.45" height="11.88"/><rect x="61.17" y="221.62" width="0.45" height="11.88"/><rect x="63.77" y="221.62" width="0.45" height="11.88"/><rect x="61.17" y="234.50" width="0.45" height="11.88"/><rect x="63.77" y="234.50" width="0.45" height="11.88"/><rect x="61.17" y="247.38" width="0.45" height="11.88"/><rect x="63.77" y="247.38" width="0.45" height="11.88"/><rect x="61.17" y="260.26" width="0.45" height="11.88"/><rect x="63.77" y="260.26" width="0.45" height="11.88"/><rect x="61.17" y="273.15" width="0.45" height="11.88"/><rect x="63.77" y="273.15" width="0.45" height="11.88"/><rect x="61.17" y="286.03" width="0.45" height="11.88"/><rect x="63.77" y="286.03" width="0.45" height="11.88"/><rect x="61.17" y="298.91" width="0.45" height="11.88"/><rect x="63.77" y="298.91" width="0.45" height="11.88"/><rect x="61.17" y="311.80" width="0.45" height="11.88"/><rect x="63.77" y="311.80" width="0.45" height="11.88"/><rect x="61.17" y="324.68" width="0.45" height="11.88"/><rect x="63.77" y="324.68" width="0.45" height="11.88"/><rect x="61.17" y="337.56" width="0.45" height="11.88"/><rect x="63.77" y="337.56" width="0.45" height="11.88"/><rect x="61.17" y="350.45" width="0.45" height="11.88"/><rect x="63.77" y="350.45" width="0.45" height="11.88"/><rect x="61.17" y="363.33" width="0.45" height="11.88"/><rect x="63.77" y="363.33" width="0.45" height="11.88"/><rect x="61.17" y="376.21" width="0.45" height="11.88"/><rect x="63.77" y="376.21" width="0.45" height="11.88"/><rect x="61.17" y="389.09" width="0.45" height="11.88"/><rect x="63.77" y="389.09" width="0.45" height="11.88"/><rect x="61.17" y="401.98" width="0.45" height="11.88"/><rect x="63.77" y="401.98" width="0.45" height="11.88"/><rect x="61.17" y="414.86" width="0.45" height="11.88"/><rect x="63.77" y="414.86" width="0.45" height="11.88"/><rect x="65.18" y="79.90" width="0.45" height="11.88"/><rect x="94.78" y="79.90" width="0.45" height="11.88"/><rect x="65.18" y="92.79" width="0.45" height="11.88"/><rect x="94.78" y="92.79" width="0.45" height="11.88"/><rect x="65.18" y="105.67" width="0.45" height="11.88"/><rect x="94.78" y="105.67" width="0.45" height="11.88"/><rect x="65.18" y="118.55" width="0.45" height="11.88"/><rect x="94.78" y="118.55" width="0.45" height="11.88"/><rect x="65.18" y="131.44" width="0.45" height="11.88"/><rect x="94.78" y="131.44" width="0.45" height="11.88"/><rect x="65.18" y="144.32" width="0.45" height="11.88"/><rect x="94.78" y="144.32" width="0.45" height="11.88"/><rect x="65.18" y="157.20" width="0.45" height="11.88"/><rect x="94.78" y="157.20" width="0.45" height="11.88"/><rect x="65.18" y="170.08" width="0.45" height="11.88"/><rect x="94.78" y="170.08" width="0.45" height="11.88"/><rect x="65.18" y="182.97" width="0.45" height="11.88"/><rect x="94.78" y="182.97" width="0.45" height="11.88"/><rect x="65.18" y="195.85" width="0.45" height="11.88"/><rect x="94.78" y="195.85" width="0.45" height="11.88"/><rect x="65.18" y="208.73" width="0.45" height="11.88"/><rect x="94.78" y="208.73" width="0.45" height="11.88"/><rect x="65.18" y="221.62" width="0.45" height="11.88"/><rect x="94.78" y="221.62" width="0.45" height="11.88"/><rect x="65.18" y="234.50" width="0.45" height="11.88"/><rect x="94.78" y="234.50" width="0.45" height="11.88"/><rect x="65.18" y="247.38" width="0.45" height="11.88"/><rect x="94.78" y="247.38" width="0.45" height="11.88"/><rect x="65.18" y="260.26" width="0.45" height="11.88"/><rect x="94.78" y="260.26" width="0.45" height="11.88"/><rect x="65.18" y="273.15" width="0.45" height="11.88"/><rect x="94.78" y="273.15" width="0.45" height="11.88"/><rect x="65.18" y="286.03" width="0.45" height="11.88"/><rect x="94.78" y="286.03" width="0.45" height="11.88"/><rect x="65.18" y="298.91" width="0.45" height="11.88"/><rect x="94.78" y="298.91" width="0.45" height="11.88"/><rect x="65.18" y="311.80" width="0.45" height="11.88"/><rect x="94.78" y="311.80" width="0.45" height="11.88"/><rect x="65.18" y="324.68" width="0.45" height="11.88"/><rect x="94.78" y="324.68" width="0.45" height="11.88"/><rect x="65.18" y="337.56" width="0.45" height="11.88"/><rect x="90.98" y="337.56" width="0.45" height="11.88"/><rect x="91.38" y="337.56" width="0.45" height="11.88"/><rect x="94.78" y="337.56" width="0.45" height="11.88"/><rect x="65.18" y="350.45" width="0.45" height="11.88"/><rect x="71.78" y="350.45" width="0.45" height="11.88"/><rect x="72.18" y="350.45" width="0.45" height="11.88"/><rect x="90.98" y="350.45" width="0.45" height="11.88"/><rect x="91.38" y="350.45" width="0.45" height="11.88"/><rect x="94.78" y="350.45" width="0.45" height="11.88"/><rect x="65.18" y="363.33" width="0.45" height="11.88"/><rect x="71.78" y="363.33" width="0.45" height="11.88"/><rect x="72.38" y="363.33" width="0.45" height="11.88"/><rect x="84.78" y="363.33" width="0.45" height="11.88"/><rect x="88.18" y="363.33" width="0.45" height="11.88"/><rect x="89.78" y="363.33" width="0.45" height="11.88"/><rect x="91.38" y="363.33" width="0.45" height="11.88"/><rect x="93.98" y="363.33" width="0.45" height="11.88"/><rect x="65.18" y="376.21" width="0.45" height="11.88"/><rect x="71.78" y="376.21" width="0.45" height="11.88"/><rect x="72.38" y="376.21" width="0.45" height="11.88"/><rect x="82.18" y="376.21" width="0.45" height="11.88"/><rect x="82.58" y="376.21" width="0.45" height="11.88"/><rect x="83.38" y="376.21" width="0.45" height="11.88"/><rect x="87.98" y="376.21" width="0.45" height="11.88"/><rect x="89.78" y="376.21" width="0.45" height="11.88"/><rect x="91.38" y="376.21" width="0.45" height="11.88"/><rect x="93.78" y="376.21" width="0.45" height="11.88"/><rect x="65.38" y="389.09" width="0.45" height="11.88"/><rect x="71.78" y="389.09" width="0.45" height="11.88"/><rect x="72.38" y="389.09" width="0.45" height="11.88"/><rect x="81.98" y="389.09" width="0.45" height="11.88"/><rect x="82.58" y="389.09" width="0.45" height="11.88"/><rect x="83.78" y="389.09" width="0.45" height="11.88"/><rect x="87.78" y="389.09" width="0.45" height="11.88"/><rect x="89.78" y="389.09" width="0.45" height="11.88"/><rect x="91.78" y="389.09" width="0.45" height="11.88"/><rect x="93.38" y="389.09" width="0.45" height="11.88"/><rect x="65.38" y="401.98" width="0.45" height="11.88"/><rect x="71.78" y="401.98" width="0.45" height="11.88"/><rect x="82.38" y="401.98" width="0.45" height="11.88"/><rect x="83.68" y="401.98" width="0.45" height="11.88"/><rect x="87.78" y="401.98" width="0.45" height="11.88"/><rect x="89.38" y="401.98" width="0.45" height="11.88"/><rect x="91.38" y="401.98" width="0.45" height="11.88"/><rect x="92.78" y="401.98" width="0.45" height="11.88"/><rect x="82.38" y="414.86" width="0.45" height="11.88"/><rect x="83.68" y="414.86" width="0.45" height="11.88"/><rect x="87.78" y="414.86" width="0.45" height="11.88"/><rect x="89.38" y="414.86" width="0.45" height="11.88"/><rect x="91.38" y="414.86" width="0.45" height="11.88"/><rect x="92.78" y="414.86" width="0.45" height="11.88"/><rect x="95.98" y="79.90" width="0.45" height="11.88"/><rect x="98.58" y="79.90" width="0.45" height="11.88"/><rect x="95.98" y="92.79" width="0.45" height="11.88"/><rect x="98.58" y="92.79" width="0.45" height="11.88"/><rect x="95.98" y="105.67" width="0.45" height="11.88"/><rect x="98.58" y="105.67" width="0.45" height="11.88"/><rect x="95.98" y="118.55" width="0.45" height="11.88"/><rect x="98.58" y="118.55" width="0.45" height="11.88"/><rect x="99.38" y="79.90" width="0.45" height="11.88"/><rect x="109.08" y="79.90" width="0.45" height="11.88"/><rect x="99.38" y="92.79" width="0.45" height="11.88"/><rect x="109.08" y="92.79" width="0.45" height="11.88"/><rect x="99.38" y="105.67" width="0.45" height="11.88"/><rect x="109.08" y="105.67" width="0.45" height="11.88"/><rect x="99.38" y="118.55" width="0.45" height="11.88"/><rect x="109.08" y="118.55" width="0.45" height="11.88"/><rect x="99.38" y="131.44" width="0.45" height="11.88"/><rect x="109.08" y="131.44" width="0.45" height="11.88"/><rect x="99.38" y="144.32" width="0.45" height="11.88"/><rect x="109.08" y="144.32" width="0.45" height="11.88"/><rect x="99.38" y="157.20" width="0.45" height="11.88"/><rect x="109.08" y="157.20" width="0.45" height="11.88"/><rect x="99.38" y="170.08" width="0.45" height="11.88"/><rect x="109.08" y="170.08" width="0.45" height="11.88"/><rect x="99.38" y="182.97" width="0.45" height="11.88"/><rect x="109.08" y="182.97" width="0.45" height="11.88"/><rect x="110.68" y="79.90" width="0.45" height="11.88"/><rect x="137.47" y="79.90" width="0.45" height="11.88"/><rect x="110.68" y="92.79" width="0.45" height="11.88"/><rect x="126.38" y="92.79" width="0.45" height="11.88"/><rect x="127.18" y="92.79" width="0.45" height="11.88"/><rect x="137.47" y="92.79" width="0.45" height="11.88"/><rect x="110.68" y="105.67" width="0.45" height="11.88"/><rect x="112.08" y="105.67" width="0.45" height="11.88"/><rect x="113.98" y="105.67" width="0.45" height="11.88"/><rect x="126.38" y="105.67" width="0.45" height="11.88"/><rect x="127.58" y="105.67" width="0.45" height="11.88"/><rect x="137.47" y="105.67" width="0.45" height="11.88"/><rect x="110.68" y="118.55" width="0.45" height="11.88"/><rect x="111.68" y="118.55" width="0.45" height="11.88"/><rect x="113.98" y="118.55" width="0.45" height="11.88"/><rect x="126.38" y="118.55" width="0.45" height="11.88"/><rect x="127.58" y="118.55" width="0.45" height="11.88"/><rect x="137.47" y="118.55" width="0.45" height="11.88"/><rect x="113.98" y="131.44" width="0.45" height="11.88"/><rect x="126.78" y="131.44" width="0.45" height="11.88"/><rect x="128.47" y="131.44" width="0.45" height="11.88"/><rect x="137.47" y="131.44" width="0.45" height="11.88"/><rect x="113.98" y="144.32" width="0.45" height="11.88"/><rect x="124.88" y="144.32" width="0.45" height="11.88"/><rect x="128.47" y="144.32" width="0.45" height="11.88"/><rect x="129.47" y="144.32" width="0.45" height="11.88"/><rect x="130.78" y="144.32" width="0.45" height="11.88"/><rect x="137.47" y="144.32" width="0.45" height="11.88"/><rect x="113.98" y="157.20" width="0.45" height="11.88"/><rect x="124.88" y="157.20" width="0.45" height="11.88"/><rect x="130.38" y="157.20" width="0.45" height="11.88"/><rect x="131.28" y="157.20" width="0.45" height="11.88"/><rect x="132.18" y="157.20" width="0.45" height="11.88"/><rect x="137.47" y="157.20" width="0.45" height="11.88"/><rect x="114.38" y="170.08" width="0.45" height="11.88"/><rect x="124.88" y="170.08" width="0.45" height="11.88"/><rect x="128.47" y="170.08" width="0.45" height="11.88"/><rect x="129.47" y="170.08" width="0.45" height="11.88"/><rect x="132.18" y="170.08" width="0.45" height="11.88"/><rect x="136.78" y="170.08" width="0.45" height="11.88"/><rect x="114.38" y="182.97" width="0.45" height="11.88"/><rect x="124.88" y="182.97" width="0.45" height="11.88"/><rect x="133.08" y="182.97" width="0.45" height="11.88"/><rect x="136.78" y="182.97" width="0.45" height="11.88"/><rect x="114.38" y="195.85" width="0.45" height="11.88"/><rect x="124.88" y="195.85" width="0.45" height="11.88"/><rect x="133.97" y="195.85" width="0.45" height="11.88"/><rect x="136.78" y="195.85" width="0.45" height="11.88"/><rect x="114.68" y="208.73" width="0.45" height="11.88"/><rect x="125.38" y="208.73" width="0.45" height="11.88"/><rect x="133.97" y="208.73" width="0.45" height="11.88"/><rect x="136.28" y="208.73" width="0.45" height="11.88"/><rect x="114.68" y="221.62" width="0.45" height="11.88"/><rect x="123.98" y="221.62" width="0.45" height="11.88"/><rect x="134.88" y="221.62" width="0.45" height="11.88"/><rect x="135.78" y="221.62" width="0.45" height="11.88"/><rect x="134.88" y="234.50" width="0.45" height="11.88"/><rect x="135.78" y="234.50" width="0.45" height="11.88"/><rect x="138.58" y="79.90" width="0.45" height="11.88"/><rect x="140.97" y="79.90" width="0.45" height="11.88"/><rect x="138.58" y="92.79" width="0.45" height="11.88"/><rect x="140.97" y="92.79" width="0.45" height="11.88"/><rect x="138.68" y="105.67" width="0.45" height="11.88"/><rect x="140.97" y="105.67" width="0.45" height="11.88"/><rect x="138.68" y="118.55" width="0.45" height="11.88"/><rect x="140.97" y="118.55" width="0.45" height="11.88"/><rect x="138.68" y="131.44" width="0.45" height="11.88"/><rect x="140.97" y="131.44" width="0.45" height="11.88"/><rect x="138.68" y="144.32" width="0.45" height="11.88"/><rect x="140.97" y="144.32" width="0.45" height="11.88"/><rect x="138.68" y="157.20" width="0.45" height="11.88"/><rect x="140.97" y="157.20" width="0.45" height="11.88"/><rect x="138.68" y="170.08" width="0.45" height="11.88"/><rect x="140.97" y="170.08" width="0.45" height="11.88"/><rect x="138.68" y="182.97" width="0.45" height="11.88"/><rect x="140.97" y="182.97" width="0.45" height="11.88"/><rect x="138.68" y="195.85" width="0.45" height="11.88"/><rect x="140.97" y="195.85" width="0.45" height="11.88"/><rect x="138.68" y="208.73" width="0.45" height="11.88"/><rect x="140.97" y="208.73" width="0.45" height="11.88"/><rect x="138.68" y="221.62" width="0.45" height="11.88"/><rect x="140.97" y="221.62" width="0.45" height="11.88"/><rect x="138.68" y="234.50" width="0.45" height="11.88"/><rect x="140.97" y="234.50" width="0.45" height="11.88"/><rect x="138.68" y="247.38" width="0.45" height="11.88"/><rect x="140.97" y="247.38" width="0.45" height="11.88"/><rect x="143.47" y="79.90" width="0.45" height="11.88"/><rect x="1063.38" y="79.90" width="0.45" height="11.88"/><rect x="143.47" y="92.79" width="0.45" height="11.88"/><rect x="1063.38" y="92.79" width="0.45" height="11.88"/><rect x="143.47" y="105.67" width="0.45" height="11.88"/><rect x="1062.98" y="105.67" width="0.45" height="11.88"/><rect x="143.47" y="118.55" width="0.45" height="11.88"/><rect x="1061.88" y="118.55" width="0.45" height="11.88"/><rect x="143.47" y="131.44" width="0.45" height="11.88"/><rect x="1061.88" y="131.44" width="0.45" height="11.88"/><rect x="143.47" y="144.32" width="0.45" height="11.88"/><rect x="1062.98" y="144.32" width="0.45" height="11.88"/><rect x="143.47" y="157.20" width="0.45" height="11.88"/><rect x="1054.78" y="157.20" width="0.45" height="11.88"/><rect x="143.47" y="170.08" width="0.45" height="11.88"/><rect x="1054.78" y="170.08" width="0.45" height="11.88"/><rect x="143.47" y="182.97" width="0.45" height="11.88"/><rect x="1054.78" y="182.97" width="0.45" height="11.88"/><rect x="143.47" y="195.85" width="0.45" height="11.88"/><rect x="1053.68" y="195.85" width="0.45" height="11.88"/><rect x="143.47" y="208.73" width="0.45" height="11.88"/><rect x="1053.68" y="208.73" width="0.45" height="11.88"/><rect x="143.47" y="221.62" width="0.45" height="11.88"/><rect x="1053.68" y="221.62" width="0.45" height="11.88"/><rect x="143.47" y="234.50" width="0.45" height="11.88"/><rect x="1053.68" y="234.50" width="0.45" height="11.88"/><rect x="143.47" y="247.38" width="0.45" height="11.88"/><rect x="1053.68" y="247.38" width="0.45" height="11.88"/><rect x="143.47" y="260.26" width="0.45" height="11.88"/><rect x="1053.68" y="260.26" width="0.45" height="11.88"/><rect x="143.47" y="273.15" width="0.45" height="11.88"/><rect x="1053.68" y="273.15" width="0.45" height="11.88"/><rect x="143.47" y="286.03" width="0.45" height="11.88"/><rect x="1053.68" y="286.03" width="0.45" height="11.88"/><rect x="143.47" y="298.91" width="0.45" height="11.88"/><rect x="1053.68" y="298.91" width="0.45" height="11.88"/><rect x="143.47" y="311.80" width="0.45" height="11.88"/><rect x="1053.68" y="311.80" width="0.45" height="11.88"/><rect x="143.47" y="324.68" width="0.45" height="11.88"/><rect x="1053.68" y="324.68" width="0.45" height="11.88"/><rect x="143.47" y="337.56" width="0.45" height="11.88"/><rect x="1053.68" y="337.56" width="0.45" height="11.88"/><rect x="143.47" y="350.45" width="0.45" height="11.88"/><rect x="1053.68" y="350.45" width="0.45" height="11.88"/><rect x="143.47" y="363.33" width="0.45" height="11.88"/><rect x="1053.68" y="363.33" width="0.45" height="11.88"/><rect x="143.47" y="376.21" width="0.45" height="11.88"/><rect x="1053.68" y="376.21" width="0.45" height="11.88"/><rect x="143.47" y="389.09" width="0.45" height="11.88"/><rect x="1053.68" y="389.09" width="0.45" height="11.88"/><rect x="143.47" y="401.98" width="0.45" height="11.88"/><rect x="1053.68" y="401.98" width="0.45" height="11.88"/><rect x="1062.08" y="118.55" width="0.45" height="11.88"/><rect x="1063.38" y="118.55" width="0.45" height="11.88"/><rect x="1062.08" y="131.44" width="0.45" height="11.88"/><rect x="1063.38" y="131.44" width="0.45" height="11.88"/><rect x="1055.28" y="157.20" width="0.45" height="11.88"/><rect x="1056.78" y="157.20" width="0.45" height="11.88"/><rect x="1058.68" y="157.20" width="0.45" height="11.88"/><rect x="1061.98" y="157.20" width="0.45" height="11.88"/><rect x="1055.28" y="170.08" width="0.45" height="11.88"/><rect x="1056.78" y="170.08" width="0.45" height="11.88"/><rect x="1058.68" y="170.08" width="0.45" height="11.88"/><rect x="1061.98" y="170.08" width="0.45" height="11.88"/><rect x="1055.28" y="182.97" width="0.45" height="11.88"/><rect x="1056.78" y="182.97" width="0.45" height="11.88"/><rect x="1058.68" y="182.97" width="0.45" height="11.88"/><rect x="1061.98" y="182.97" width="0.45" height="11.88"/><rect x="1056.08" y="195.85" width="0.45" height="11.88"/><rect x="1057.58" y="195.85" width="0.45" height="11.88"/><rect x="1058.98" y="195.85" width="0.45" height="11.88"/><rect x="1061.98" y="195.85" width="0.45" height="11.88"/><rect x="1055.98" y="208.73" width="0.45" height="11.88"/><rect x="1057.58" y="208.73" width="0.45" height="11.88"/><rect x="1059.18" y="208.73" width="0.45" height="11.88"/><rect x="1061.98" y="208.73" width="0.45" height="11.88"/><rect x="1055.98" y="221.62" width="0.45" height="11.88"/><rect x="1057.58" y="221.62" width="0.45" height="11.88"/><rect x="1059.18" y="221.62" width="0.45" height="11.88"/><rect x="1061.98" y="221.62" width="0.45" height="11.88"/><rect x="1055.98" y="234.50" width="0.45" height="11.88"/><rect x="1057.58" y="234.50" width="0.45" height="11.88"/><rect x="1059.18" y="234.50" width="0.45" height="11.88"/><rect x="1061.98" y="234.50" width="0.45" height="11.88"/><rect x="1055.98" y="247.38" width="0.45" height="11.88"/><rect x="1057.58" y="247.38" width="0.45" height="11.88"/><rect x="1059.18" y="247.38" width="0.45" height="11.88"/><rect x="1061.98" y="247.38" width="0.45" height="11.88"/><rect x="1055.98" y="260.26" width="0.45" height="11.88"/><rect x="1057.58" y="260.26" width="0.45" height="11.88"/><rect x="1059.18" y="260.26" width="0.45" height="11.88"/><rect x="1061.98" y="260.26" width="0.45" height="11.88"/><rect x="1055.98" y="273.15" width="0.45" height="11.88"/><rect x="1057.58" y="273.15" width="0.45" height="11.88"/><rect x="1059.18" y="273.15" width="0.45" height="11.88"/><rect x="1061.98" y="273.15" width="0.45" height="11.88"/><rect x="1055.98" y="286.03" width="0.45" height="11.88"/><rect x="1057.58" y="286.03" width="0.45" height="11.88"/><rect x="1059.18" y="286.03" width="0.45" height="11.88"/><rect x="1061.98" y="286.03" width="0.45" height="11.88"/><rect x="1055.98" y="298.91" width="0.45" height="11.88"/><rect x="1057.58" y="298.91" width="0.45" height="11.88"/><rect x="1059.18" y="298.91" width="0.45" height="11.88"/><rect x="1061.98" y="298.91" width="0.45" height="11.88"/><rect x="1055.98" y="311.80" width="0.45" height="11.88"/><rect x="1057.58" y="311.80" width="0.45" height="11.88"/><rect x="1059.18" y="311.80" width="0.45" height="11.88"/><rect x="1061.98" y="311.80" width="0.45" height="11.88"/><rect x="1055.98" y="324.68" width="0.45" height="11.88"/><rect x="1057.58" y="324.68" width="0.45" height="11.88"/><rect x="1059.18" y="324.68" width="0.45" height="11.88"/><rect x="1061.98" y="324.68" width="0.45" height="11.88"/><rect x="1055.98" y="337.56" width="0.45" height="11.88"/><rect x="1057.58" y="337.56" width="0.45" height="11.88"/><rect x="1059.18" y="337.56" width="0.45" height="11.88"/><rect x="1061.98" y="337.56" width="0.45" height="11.88"/><rect x="1055.98" y="350.45" width="0.45" height="11.88"/><rect x="1057.58" y="350.45" width="0.45" height="11.88"/><rect x="1059.18" y="350.45" width="0.45" height="11.88"/><rect x="1061.98" y="350.45" width="0.45" height="11.88"/><rect x="1055.98" y="363.33" width="0.45" height="11.88"/><rect x="1057.58" y="363.33" width="0.45" height="11.88"/><rect x="1059.18" y="363.33" width="0.45" height="11.88"/><rect x="1061.98" y="363.33" width="0.45" height="11.88"/><rect x="1055.98" y="376.21" width="0.45" height="11.88"/><rect x="1057.58" y="376.21" width="0.45" height="11.88"/><rect x="1059.18" y="376.21" width="0.45" height="11.88"/><rect x="1061.98" y="376.21" width="0.45" height="11.88"/><rect x="1055.98" y="389.09" width="0.45" height="11.88"/><rect x="1057.58" y="389.09" width="0.45" height="11.88"/><rect x="1059.18" y="389.09" width="0.45" height="11.88"/><rect x="1061.98" y="389.09" width="0.45" height="11.88"/></g></g><g class="lbl"><text x="58.00" y="75.98">root</text><text x="67.80" y="88.86">gop<tspan letter-spacing="-0.55">...</tspan></text><text x="67.80" y="101.75">gop<tspan letter-spacing="-0.55">...</tspan></text><text x="67.80" y="114.63">net<tspan letter-spacing="-0.55">...</tspan></text><text x="67.80" y="127.51">net<tspan letter-spacing="-0.55">...</tspan></text><text x="67.80" y="140.40">net<tspan letter-spacing="-0.55">...</tspan></text><text x="67.80" y="153.28">rout<tspan letter-spacing="-0.55">...</tspan></text><text x="67.80" y="166.16">rout<tspan letter-spacing="-0.55">...</tspan></text><text x="67.80" y="179.04">http<tspan letter-spacing="-0.55">...</tspan></text><text x="67.80" y="191.93">rou<tspan letter-spacing="-0.55">...</tspan></text><text x="67.80" y="204.81">app<tspan letter-spacing="-0.55">...</tspan></text><text x="67.80" y="217.69">rec<tspan letter-spacing="-0.55">...</tspan></text><text x="67.80" y="230.58">app<tspan letter-spacing="-0.55">...</tspan></text><text x="67.80" y="243.46">ctx.<tspan letter-spacing="-0.55">...</tspan></text><text x="67.80" y="256.34">app<tspan letter-spacing="-0.55">...</tspan></text><text x="67.80" y="269.22">byt<tspan letter-spacing="-0.55">...</tspan></text><text x="67.80" y="282.11">app<tspan letter-spacing="-0.55">...</tspan></text><text x="67.80" y="294.99">api<tspan letter-spacing="-0.55">...</tspan></text><text x="67.80" y="307.87">app<tspan letter-spacing="-0.55">...</tspan></text><text x="67.80" y="320.76">mid<tspan letter-spacing="-0.55">...</tspan></text><text x="67.80" y="333.64">app<tspan letter-spacing="-0.55">...</tspan></text><text x="67.80" y="346.52">vie<tspan letter-spacing="-0.55">...</tspan></text><text x="113.30" y="88.86">run<tspan letter-spacing="-0.55">...</tspan></text><text x="146.10" y="88.86" textLength="115.58">wpool.(*Pool).GoCtx.func1</text><text x="146.10" y="101.75" textLength="133.35">client.rpcTimeoutMW.func1.1.1</text><text x="146.10" y="114.63" textLength="99.72">client.contextMW.func1</text><text x="146.10" y="127.51">bytedtracing.NewCompatibleClientTraceMW.func1.1</text><text x="146.10" y="140.40" textLength="198.56">bytedtracing.NewClientBytedTraceMW.func1.1</text><text x="146.10" y="153.28" textLength="162.59">common.NewStatusCheckMW.func1.1</text><text x="146.10" y="166.16" textLength="118.49">client.newProxyMW.func1.1</text><text x="146.10" y="179.04" textLength="156.83">client.newIOErrorHandleMW.func1.1</text><text x="146.10" y="191.93" textLength="194.62">client.(*kClient).invokeHandleEndpoint.func1</text><text x="146.10" y="204.81" textLength="102.99">remotecli.(*client).Recv</text><text x="146.10" y="217.69" textLength="128.47">remote.(*TransPipeline).Read</text><text x="146.10" y="230.58" textLength="128.36">trans.(*cliTransHandler).Read</text><text x="146.10" y="243.46" textLength="132.32">codec.(*defaultCodec).Decode</text><text x="146.10" y="256.34" textLength="165.73">codec.(*defaultCodec).DecodePayload</text><text x="146.10" y="269.22" textLength="123.83">thrift.thriftCodec.Unmarshal</text><text x="146.10" y="282.11" textLength="226.24">abtest.(*VersionServiceGetAbVersions2Result).Read</text><text x="146.10" y="294.99" textLength="251.47">abtest.(*VersionServiceGetAbVersions2Result).ReadField0</text><text x="146.10" y="307.87" textLength="120.84">abtest.(*VersionRsp2).Read</text><text x="146.10" y="320.76" textLength="146.78">abtest.(*VersionRsp2).ReadField1</text><text x="146.10" y="333.64" textLength="122.60">abtest.(*VersionInfo2).Read</text><text x="146.10" y="346.52" textLength="147.73">abtest.(*VersionInfo2).ReadField3</text><text x="146.10" y="359.41" textLength="151.18">thrift.(*BinaryProtocol).ReadString</text><text x="146.10" y="372.29" textLength="171.16">netpoll.(*netpollByteBuffer).ReadString</text><text x="146.10" y="385.17" textLength="143.84">netpoll.(*connection).ReadString</text><text x="146.10" y="398.05" textLength="140.03">netpoll.(*LinkBuffer).ReadString</text><text x="146.10" y="410.94" textLength="139.25">netpoll.(*LinkBuffer).readBinary</text></g></svg>
<div class="bottomline"></div>
<svg class="ov tip" width="1088" height="439" viewBox="0 0 1088 439"><rect x="300.9" y="103.0" width="173.9" height="23.4" fill="#f9c5a7"/><text x="305.0" y="113.0" letter-spacing="0.05">github.com/cloudwego/kitex/internal/wpool.</text><text x="305.6" y="123.0" letter-spacing="-0.12">(*Pool).GoCtx.func1 (91.30%, 2.29GB)</text></svg>
</body>
</html>
